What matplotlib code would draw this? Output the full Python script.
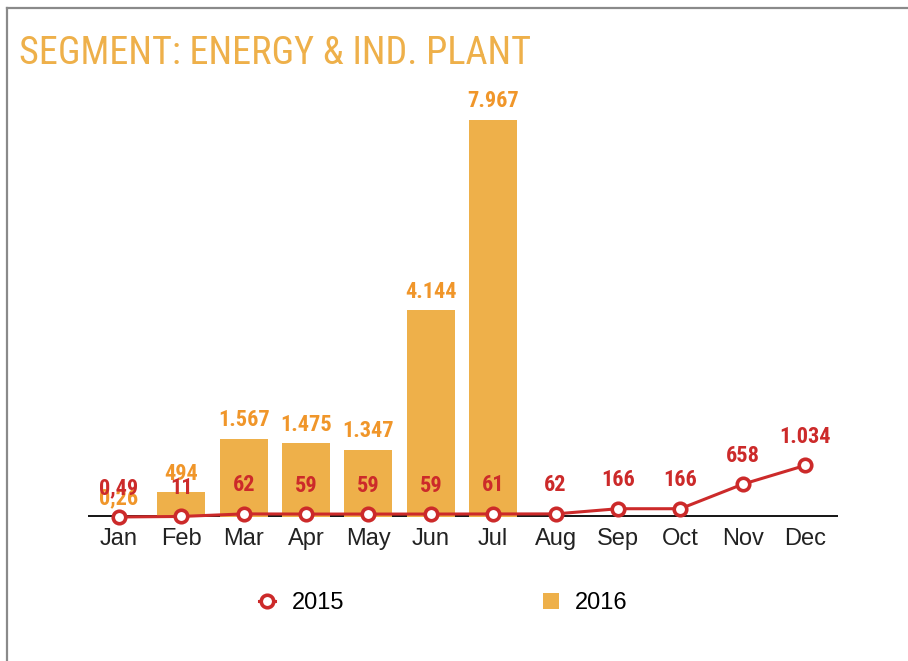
import matplotlib
matplotlib.use("Agg")
import matplotlib.pyplot as plt
from matplotlib import font_manager
from matplotlib.lines import Line2D
from matplotlib.patches import Patch

months = ["Jan", "Feb", "Mar", "Apr", "May", "Jun", "Jul", "Aug", "Sep", "Oct", "Nov", "Dec"]
values_2015 = [0.49, 11, 62, 59, 59, 59, 61, 62, 166, 166, 658, 1034]
values_2016 = [0.26, 494, 1567, 1475, 1347, 4144, 7967]
title_text = "SEGMENT: ENERGY & IND. PLANT"

BAR = "#EEB04A"
BAR_LABEL = "#F0962A"
RED = "#CC2A2A"


def pick_font(cands):
    for c in cands:
        try:
            font_manager.findfont(font_manager.FontProperties(family=c), fallback_to_default=False)
            return c
        except Exception:
            continue
    return "DejaVu Sans"


cond = pick_font(["Roboto Condensed", "Liberation Sans Narrow", "Open Sans Condensed", "Roboto"])
sans = pick_font(["Liberation Sans", "Arial", "DejaVu Sans"])


def fmt(v):
    if v < 1:
        return ("%.2f" % v).replace(".", ",")
    s = "{:,}".format(int(round(v)))
    return s.replace(",", ".")


fig = plt.figure(figsize=(9.08, 6.61), dpi=100)
ax = fig.add_axes([87.8 / 908, (661 - 517) / 661, 750 / 908, 423.6 / 661])

x15 = list(range(len(months)))
x16 = list(range(len(values_2016)))

ax.axhline(0, color="#1a1a1a", lw=3.6, zorder=1)
ax.bar(x16, values_2016, width=0.77, color=BAR, zorder=2)
ax.plot(x15, values_2015, color=RED, lw=2.2, marker="o", ms=9, mfc="white",
        mec=RED, mew=2.6, zorder=4, clip_on=False)

for xi, v in zip(x16, values_2016):
    ax.annotate(fmt(v), (xi, v), xytext=(0, 13.5), textcoords="offset points",
                ha="center", va="center", color=BAR_LABEL, fontsize=16,
                fontweight="bold", family=cond, zorder=5)
for xi, v in zip(x15, values_2015):
    ax.annotate(fmt(v), (xi, v), xytext=(0, 20.5), textcoords="offset points",
                ha="center", va="center", color=RED, fontsize=16,
                fontweight="bold", family=cond, zorder=6)

ax.set_xlim(-0.5, 11.525)
ax.set_ylim(0, 8500)
ax.set_xticks(x15)
ax.set_xticklabels(months, fontsize=17, color="#222222", family=sans)
ax.tick_params(axis="x", length=0, pad=8)
ax.set_yticks([])
for s in ax.spines.values():
    s.set_visible(False)

handles = [
    Line2D([], [], color=RED, lw=2.2, marker="o", ms=9, mfc="white", mec=RED, mew=2.6),
    Patch(facecolor=BAR, edgecolor="none"),
]
leg = fig.legend(handles, ["2015", "2016"], loc="center", bbox_to_anchor=(443.5 / 908, 1 - 603 / 661),
                 ncol=2, frameon=False, prop={"family": sans, "size": 17},
                 handlelength=0.68, handleheight=0.68, handletextpad=0.7, columnspacing=8.4,
                 borderpad=0, borderaxespad=0)

fig.text(19 / 908, 1 - 53 / 661, title_text, color=BAR, fontsize=27.5, family=cond,
         fontweight="normal", ha="left", va="center")

fig.add_artist(Line2D([7 / 908, 7 / 908], [0, 1 - 8 / 661], color="#8a8a8a", lw=1.6))
fig.add_artist(Line2D([7 / 908, 1], [1 - 8 / 661, 1 - 8 / 661], color="#8a8a8a", lw=1.6))

fig.savefig("out.png", dpi=100)
